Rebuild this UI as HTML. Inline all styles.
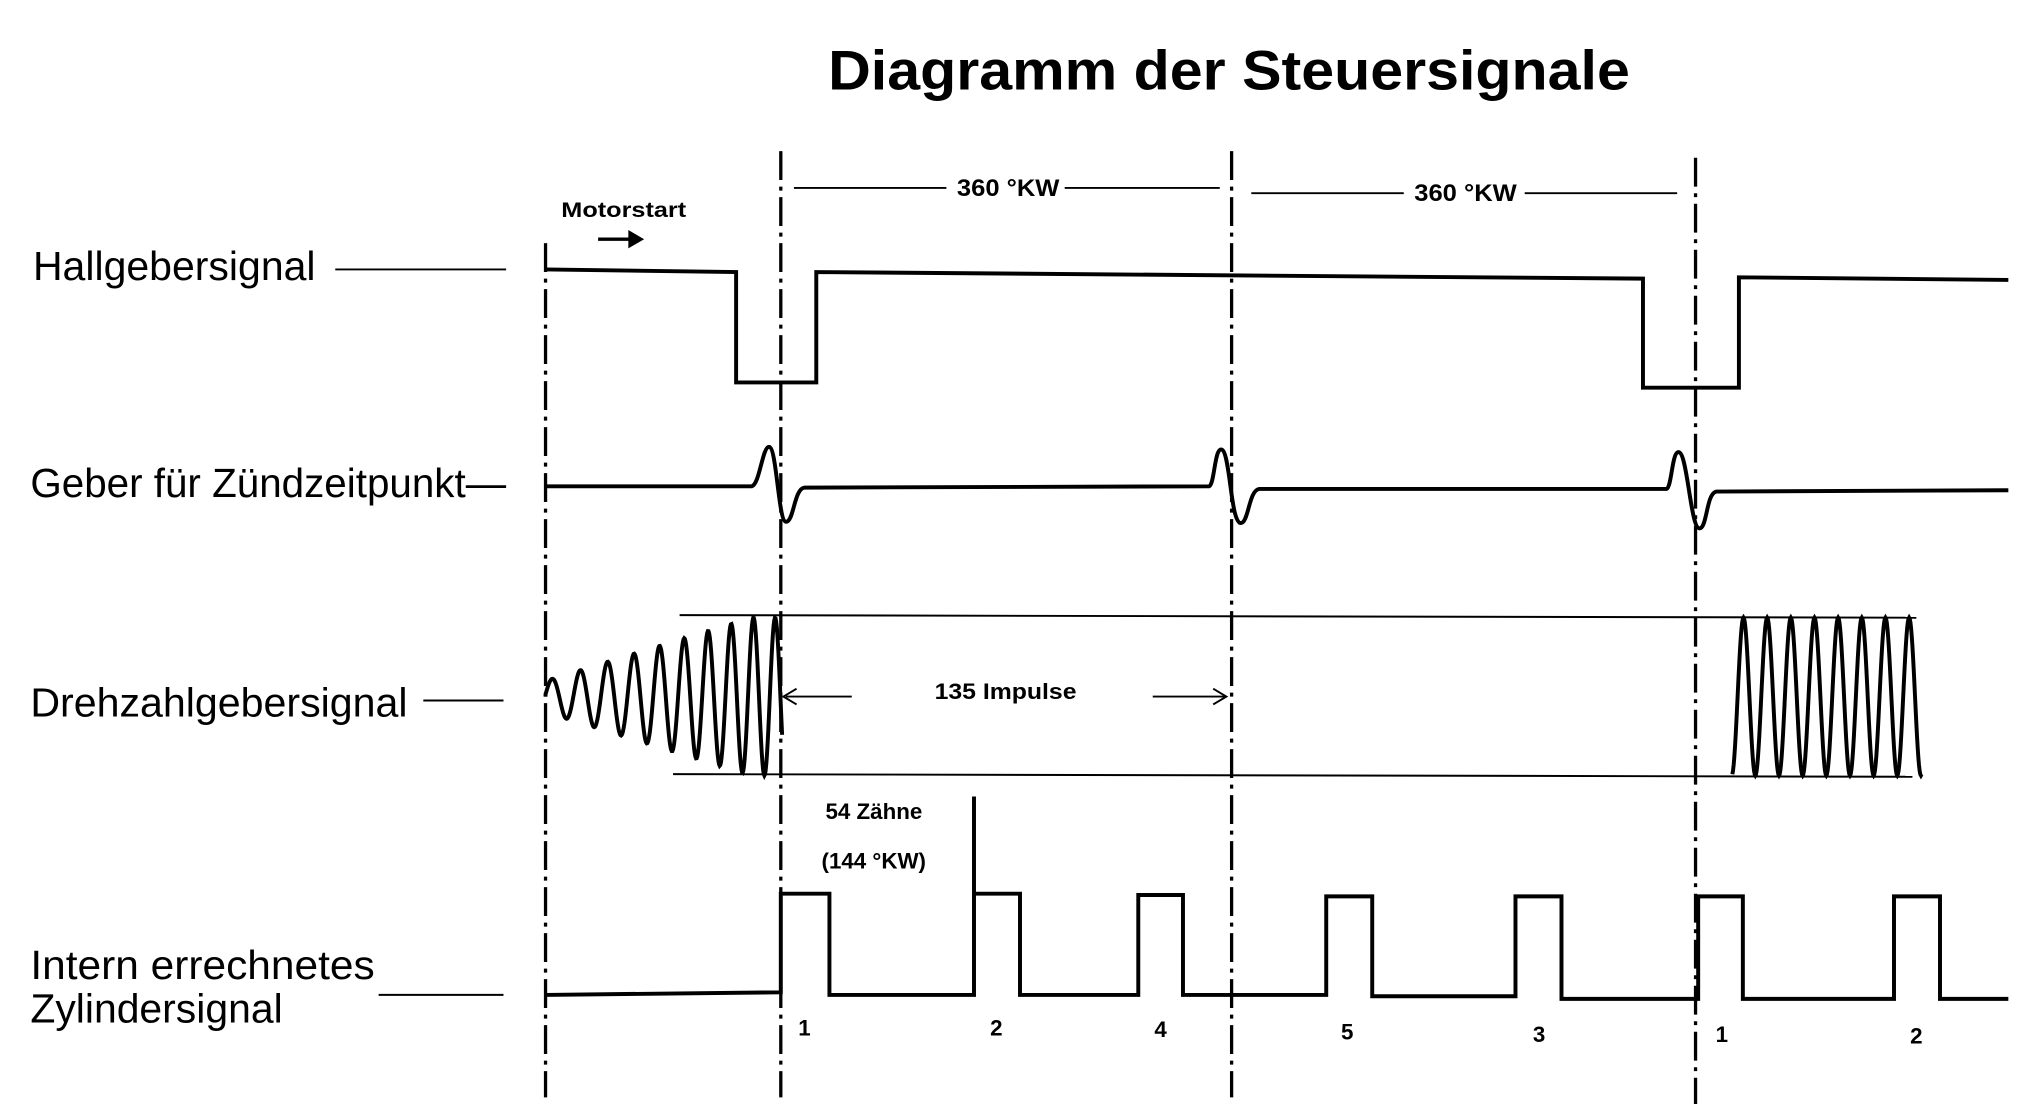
<!DOCTYPE html>
<html><head><meta charset="utf-8"><style>
html,body{margin:0;padding:0;background:#fff;}
svg{display:block;}
text{font-family:"Liberation Sans",Arial,sans-serif;fill:#000;}
</style></head><body>
<svg id="s" width="2040" height="1104" viewBox="0 0 1552 840" xmlns="http://www.w3.org/2000/svg">
<rect width="1552" height="840" fill="#fff"/>
<text x="630" y="68" font-size="42" font-weight="bold" textLength="610" lengthAdjust="spacingAndGlyphs">Diagramm der Steuersignale</text>
<g stroke="#000" stroke-width="2.5" stroke-dasharray="22,5,3,5" fill="none">
<line x1="415" y1="185" x2="415" y2="835"/>
<line x1="594" y1="115" x2="594" y2="835"/>
<line x1="937" y1="115" x2="937" y2="835"/>
<line x1="1290" y1="120" x2="1290" y2="840"/>
</g>
<g stroke="#000" stroke-width="1.5" fill="none">
<line x1="604" y1="143" x2="720" y2="143"/><line x1="810" y1="143" x2="928" y2="143"/>
<line x1="952" y1="147" x2="1068" y2="147"/><line x1="1160" y1="147" x2="1276" y2="147"/>
<line x1="255" y1="205" x2="385" y2="205"/>
<line x1="322" y1="533" x2="383" y2="533"/>
<line x1="288" y1="757" x2="383" y2="757"/>
<line x1="517" y1="468" x2="1458" y2="470"/>
<line x1="512" y1="589" x2="1455" y2="591"/>
<line x1="598" y1="530" x2="648" y2="530"/><path d="M606 524 L596 530 L606 536"/>
<line x1="877" y1="530" x2="933" y2="530"/><path d="M923 524 L933 530 L923 536"/>
</g>
<line x1="455" y1="182" x2="482" y2="182" stroke="#000" stroke-width="2.5"/>
<path d="M478 175 L490 182 L478 189Z" fill="#000"/>
<g font-size="18" font-weight="600">
<text x="728" y="149" textLength="78" lengthAdjust="spacingAndGlyphs">360 °KW</text>
<text x="1076" y="153" textLength="78" lengthAdjust="spacingAndGlyphs">360 °KW</text>
<text x="427" y="165" font-size="16" textLength="95" lengthAdjust="spacingAndGlyphs">Motorstart</text>
<text x="711" y="532" font-size="17" textLength="108" lengthAdjust="spacingAndGlyphs">135 Impulse</text>
<text x="628" y="623" font-size="17">54 Zähne</text>
<text x="625" y="661" font-size="17">(144 °KW)</text>
</g>
<text x="25" y="213" font-size="31" textLength="215" lengthAdjust="spacingAndGlyphs">Hallgebersignal</text>
<text x="23" y="378" font-size="31" textLength="362" lengthAdjust="spacingAndGlyphs">Geber für Zündzeitpunkt—</text>
<text x="23" y="545" font-size="31" textLength="287" lengthAdjust="spacingAndGlyphs">Drehzahlgebersignal</text>
<text x="23" y="745" font-size="31" textLength="262" lengthAdjust="spacingAndGlyphs">Intern errechnetes</text>
<text x="23" y="778" font-size="31" textLength="192" lengthAdjust="spacingAndGlyphs">Zylindersignal</text>
<g font-size="17" font-weight="600" text-anchor="middle">
<text x="612" y="788">1</text><text x="758" y="788">2</text><text x="883" y="789">4</text>
<text x="1025" y="791">5</text><text x="1171" y="793">3</text><text x="1310" y="793">1</text><text x="1458" y="794">2</text>
</g>
<g stroke="#000" stroke-width="3" fill="none" stroke-linejoin="miter">
<path d="M415 205 L560 207 L560 291 L621 291 L621 207 L1250 212 L1250 295 L1323 295 L1323 211 L1528 213"/>
<path d="M415 370 L572 370 C578 368 580 340 585 340 C591 340 592 397 598 397 C604 397 604 372 612 371 L920 370 C924 368 924 342 929 342 C936 342 936 398 944 398 C950 398 950 373 958 372 L1268 372 C1272 370 1272 344 1277 344 C1284 344 1286 402 1293 402 C1299 402 1298 375 1306 374 L1528 373"/>
<path d="M415 757 L594 755 L594 680 L631 680 L631 757 L741 757 L741 606 M741 680 L776 680 L776 757 L866 757 L866 681 L900 681 L900 757 L1009 757 L1009 682 L1044 682 L1044 758 L1153 758 L1153 682 L1188 682 L1188 760 L1292 760 L1292 682 L1326 682 L1326 760 L1441 760 L1441 682 L1476 682 L1476 760 L1528 760"/>
<path id="osc1"/><path id="osc2"/>
</g>
</svg>
<script>
(function(){
var d="M415 530",x=415,ph=0;
for(;x<=595;x+=0.5){var t=(x-415)/180;var amp=12+48*Math.min(1,t*1.15);var per=22-6*t;ph+=2*Math.PI*0.5/per;d+=" L"+x+" "+(530-amp*Math.sin(ph)).toFixed(1);}
document.getElementById("osc1").setAttribute("d",d);
var d2="",ph2=-Math.PI/2;
for(x=1318;x<=1462;x+=0.5){ph2+=2*Math.PI*0.5/18;var y=530-60*Math.sin(ph2);d2+=(d2?" L":"M")+x+" "+y.toFixed(1);}
document.getElementById("osc2").setAttribute("d",d2);
})();
</script>
</body></html>
